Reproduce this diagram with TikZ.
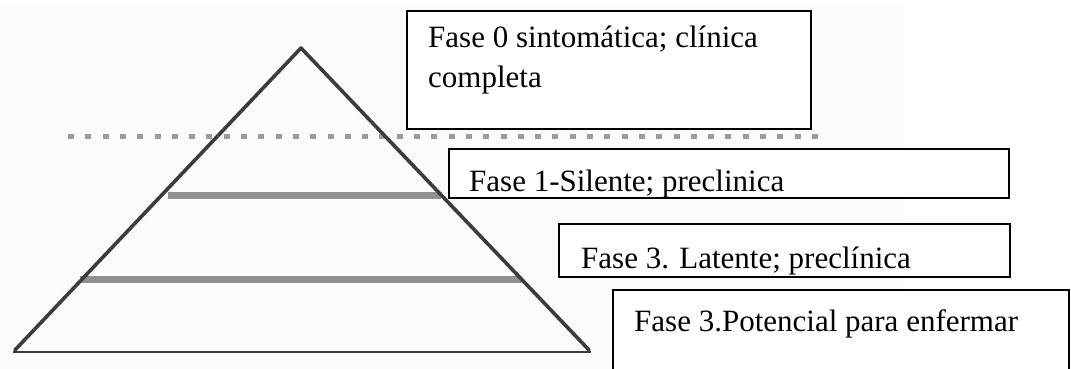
\documentclass[tikz,border=0pt]{standalone}
\usepackage{fontspec}
\setmainfont{Liberation Serif}
\definecolor{paper}{RGB}{251,251,251}
\definecolor{edge}{RGB}{60,60,60}
\definecolor{band}{RGB}{145,145,145}
\definecolor{dots}{RGB}{155,155,155}
\tikzset{
  x=1pt, y=-1pt,
  pyredge/.style={draw=edge, line width=3.6pt, line cap=round, line join=round},
  bandline/.style={draw=band, line width=7pt},
  horizon/.style={draw=dots, line width=5pt, dash pattern=on 6pt off 11.3pt},
  phasebox/.style={draw=black, line width=2pt, fill=white, inner sep=0pt, anchor=north west},
  label/.style={anchor=base west, inner sep=0pt, font=\fontsize{31}{38}\selectfont}
}
\begin{document}
\begin{tikzpicture}
  \useasboundingbox (0,0) rectangle (1071,369);
  \fill[paper] (0,7) rectangle (904,369);

  % pyramid corners
  \coordinate (apex) at (301,48);
  \coordinate (bl) at (15,350);
  \coordinate (br) at (589,350);
  \coordinate (bl2) at (13,352);
  \coordinate (br2) at (591,352);

  % dotted horizon above the silent phase
  \coordinate (h1) at (68,136);
  \coordinate (h2) at (818,136);
  \draw[horizon] (h1) -- (h2);

  % inner bands of the pyramid
  \coordinate (u1) at (168,195);
  \coordinate (u2) at (441,195);
  \coordinate (m1) at (80,279);
  \coordinate (m2) at (522,279);
  \draw[bandline] (u1) -- (u2);
  \draw[bandline] (m1) -- (m2);

  % pyramid outline
  \draw[pyredge] (bl) -- (apex) -- (br);
  \draw[draw=edge, line width=2.8pt] (bl2) -- (br2);

  % phase boxes
  \node[phasebox, minimum width=404pt, minimum height=118pt] (b0) at (406,10) {};
  \node[label] (t0a) at (428,48) {Fase 0 sintomática; clínica};
  \node[label] (t0b) at (428,88) {completa};

  \node[phasebox, minimum width=560pt, minimum height=49pt] (b1) at (448,148) {};
  \begin{scope}
    \clip (b1.north west) rectangle (b1.south east);
    \node[label] (t1) at (469,191) {Fase 1-Silente; preclinica};
  \end{scope}

  \node[phasebox, minimum width=451pt, minimum height=53pt] (b2) at (558,223) {};
  \begin{scope}
    \clip (b2.north west) rectangle (b2.south east);
    \node[label] (t2) at (581,268) {Fase 3. Latente; preclínica};
  \end{scope}

  \node[phasebox, minimum width=456pt, minimum height=90pt] (b3) at (612,289) {};
  \node[label] (t3) at (634,331) {Fase 3.Potencial para enfermar};
\end{tikzpicture}
\end{document}
